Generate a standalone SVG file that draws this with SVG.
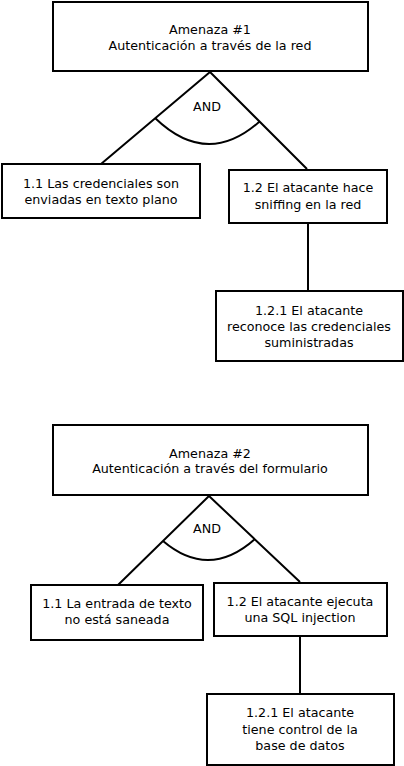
<svg xmlns="http://www.w3.org/2000/svg" width="404" height="766" viewBox="0 0 404 766">
<style>
rect{fill:#fff;stroke:#000;stroke-width:2}
.c{fill:none;stroke:#000;stroke-width:2}
text{font-family:"DejaVu Sans",sans-serif;font-size:12.7px;fill:#000;text-anchor:middle;dominant-baseline:central}
</style>
<rect x="0" y="0" width="404" height="766" style="stroke:none"/>
<g id="connectors">
<path class="c" d="M210 72L101 164M210 72L307 169M155 118Q207 168 259 122M308 223V291"/>
<path class="c" d="M209 496L118 585M209 496L300 582M163 541Q209 580 255 539M300 636V694"/>
</g>
<g id="gate1"><text x="207" y="106">AND</text></g>
<g id="gate2"><text x="207" y="528">AND</text></g>
<g id="t1"><rect x="53" y="2" width="315" height="69"/><text x="210" y="29">Amenaza #1</text><text x="210" y="45">Autenticación a través de la red</text></g>
<g id="t1_1"><rect x="2" y="164" width="198" height="54"/><text x="101" y="183">1.1 Las credenciales son</text><text x="101" y="199">enviadas en texto plano</text></g>
<g id="t1_2"><rect x="229" y="170" width="158" height="53"/><text x="308" y="187">1.2 El atacante hace</text><text x="308" y="204">sniffing en la red</text></g>
<g id="t1_2_1"><rect x="216" y="291" width="187" height="70"/><text x="309" y="310">1.2.1 El atacante</text><text x="309" y="326">reconoce las credenciales</text><text x="309" y="342">suministradas</text></g>
<g id="t2"><rect x="53" y="425" width="315" height="70"/><text x="210" y="453">Amenaza #2</text><text x="210" y="468">Autenticación a través del formulario</text></g>
<g id="t2_1"><rect x="31" y="585" width="172" height="55"/><text x="117" y="603">1.1 La entrada de texto</text><text x="117" y="619">no está saneada</text></g>
<g id="t2_2"><rect x="214" y="583" width="173" height="53"/><text x="300" y="601">1.2 El atacante ejecuta</text><text x="300" y="617">una SQL injection</text></g>
<g id="t2_2_1"><rect x="207" y="694" width="187" height="71"/><text x="300" y="712">1.2.1 El atacante</text><text x="300" y="729">tiene control de la</text><text x="300" y="745">base de datos</text></g>
</svg>
